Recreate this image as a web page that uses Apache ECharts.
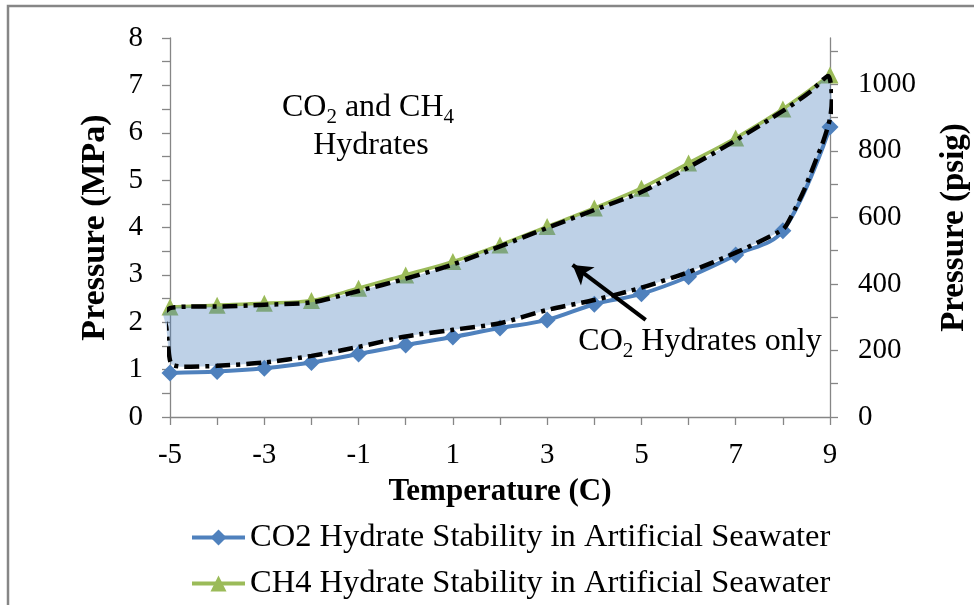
<!DOCTYPE html>
<html>
<head>
<meta charset="utf-8">
<script src="https://cdn.jsdelivr.net/npm/echarts@6/dist/echarts.min.js"></script>
<style>
html,body{margin:0;padding:0;background:#fff;}
#chart{width:974px;height:605px;}
</style>
</head>
<body>
<div id="chart"></div>
<script>
// ---- data ----
const temps = [-5, -4, -3, -2, -1, 0, 1, 2, 3, 4, 5, 6, 7, 8, 9];
const co2Pressure = [0.93, 0.96, 1.03, 1.15, 1.33, 1.52, 1.69, 1.88, 2.05, 2.38, 2.60, 2.96, 3.42, 3.93, 6.12];
const ch4Pressure = [2.32, 2.36, 2.40, 2.46, 2.72, 3.00, 3.28, 3.63, 4.02, 4.41, 4.83, 5.36, 5.89, 6.50, 7.22];
// region "CO2 Hydrates only" outline (temperature, pressure)
const regionT = [-5.15, -5.0, -4.6, -4, -3, -2, -1, 0, 1, 2, 3, 4, 5, 6, 7, 8, 8.6, 8.96, 9.04, 9.0, 8.85, 8.7, 8.45, 8.17, 8.0, 7, 6, 5, 4, 3, 2, 1, 0, -1, -2, -3, -4, -4.7, -4.97, -5.04, -5.08, -5.15];
const regionP = [2.17, 2.30, 2.33, 2.33, 2.37, 2.42, 2.66, 2.92, 3.22, 3.60, 3.99, 4.37, 4.75, 5.27, 5.84, 6.46, 6.88, 7.20, 6.70, 6.30, 5.80, 5.42, 4.79, 4.22, 3.96, 3.47, 3.06, 2.73, 2.47, 2.26, 1.98, 1.84, 1.70, 1.48, 1.29, 1.15, 1.08, 1.06, 1.12, 1.50, 1.90, 2.17];
const mpaTicks = [0, 1, 2, 3, 4, 5, 6, 7, 8];
const psigTicks = [0, 100, 200, 300, 400, 500, 600, 700, 800, 900, 1000, 1100];
const psigLabels = [0, 200, 400, 600, 800, 1000];
const xLabels = [-5, -3, -1, 1, 3, 5, 7, 9];
const arrowFrom = [5.09, 2.05];
const arrowTo = [3.54, 3.21];

const FONT = "'Liberation Serif','Times New Roman',serif";
const AXIS_GRAY = '#868686';

const co2Data = temps.map((t, i) => [t, co2Pressure[i]]);
const ch4Data = temps.map((t, i) => [t, ch4Pressure[i]]);
const regionData = regionT.map((t, i) => [t, regionP[i]]);

const chart = echarts.init(document.getElementById('chart'), null, {renderer: 'canvas'});

const subRich = {sub: {fontFamily: FONT, fontSize: 21, verticalAlign: 'bottom', lineHeight: 21, fill: '#000'}};

const option = {
  animation: false,
  backgroundColor: '#fff',
  grid: {left: 170, right: 144, top: 38, bottom: 188, containLabel: false, outerBoundsMode: 'none'},
  xAxis: {
    type: 'value', min: -5, max: 9, interval: 1,
    axisLine: {show: true, onZero: false, lineStyle: {color: AXIS_GRAY, width: 1.3}},
    axisTick: {show: true, length: 8, lineStyle: {color: AXIS_GRAY, width: 1.3}},
    splitLine: {show: false},
    axisLabel: {
      margin: 24, color: '#000', fontFamily: FONT, fontSize: 29,
      formatter: v => xLabels.indexOf(v) >= 0 ? String(v) : ''
    },
    name: 'Temperature (C)', nameLocation: 'middle', nameGap: 59,
    nameTextStyle: {fontFamily: FONT, fontSize: 31, fontWeight: 'bold', color: '#000'}
  },
  yAxis: [{
    type: 'value', min: 0, max: 8, interval: 0.5, position: 'left',
    axisLine: {show: true, onZero: false, lineStyle: {color: AXIS_GRAY, width: 1.3}},
    axisTick: {show: true, length: 8, lineStyle: {color: AXIS_GRAY, width: 1.3}},
    splitLine: {show: false},
    axisLabel: {
      margin: 27, color: '#000', fontFamily: FONT, fontSize: 29,
      formatter: v => mpaTicks.indexOf(v) >= 0 ? String(v) : ''
    },
    name: 'Pressure (MPa)', nameLocation: 'middle', nameGap: 58,
    nameTextStyle: {fontFamily: FONT, fontSize: 34, fontWeight: 'bold', color: '#000'}
  }, {
    type: 'value', min: 0, max: 1139, interval: 100, position: 'right',
    axisLine: {show: true, onZero: false, lineStyle: {color: AXIS_GRAY, width: 1.3}},
    axisTick: {show: true, length: 8, lineStyle: {color: AXIS_GRAY, width: 1.3}, customValues: psigTicks},
    splitLine: {show: false},
    axisLabel: {
      margin: 28, color: '#000', fontFamily: FONT, fontSize: 29,
      customValues: psigLabels,
      formatter: v => psigLabels.indexOf(v) >= 0 ? String(v) : ''
    },
    name: 'Pressure (psig)', nameLocation: 'middle', nameGap: 108, nameRotate: 90,
    nameTextStyle: {fontFamily: FONT, fontSize: 33, fontWeight: 'bold', color: '#000'}
  }],
  legend: {
    data: ['CO2 Hydrate Stability in Artificial Seawater', 'CH4 Hydrate Stability in Artificial Seawater'],
    orient: 'vertical', left: 185, top: 516, itemGap: 13,
    itemWidth: 53, itemHeight: 20,
    lineStyle: {width: 4},
    textStyle: {fontFamily: FONT, fontSize: 32.5, lineHeight: 32, color: '#000'}
  },
  series: [{
    name: 'CO2 Hydrate Stability in Artificial Seawater',
    type: 'line', data: co2Data, z: 2, smooth: 0.35,
    symbol: 'diamond', symbolSize: 17,
    lineStyle: {color: '#4f81bd', width: 4},
    itemStyle: {color: '#4f81bd'}
  }, {
    name: 'CH4 Hydrate Stability in Artificial Seawater',
    type: 'line', data: ch4Data, z: 2, smooth: 0.35,
    symbol: 'triangle', symbolSize: 17,
    lineStyle: {color: '#9bbb59', width: 3.5},
    itemStyle: {color: '#9bbb59'}
  }, {
    name: 'region',
    type: 'custom', z: 3, silent: true,
    data: regionData,
    encode: {x: 0, y: 1},
    renderItem: function (params, api) {
      if (params.dataIndex !== 0) return null;
      const pts = regionData.map(p => api.coord(p));
      return {
        type: 'polygon',
        shape: {points: pts, smooth: 0.25},
        style: {fill: 'rgba(79,129,189,0.37)', stroke: null}
      };
    }
  }, {
    name: 'outline',
    type: 'line', z: 4, silent: true,
    data: regionData,
    smooth: 0.25, showSymbol: false, symbol: 'none',
    lineStyle: {color: '#000', width: 4.5, type: [15, 6, 4, 6], cap: 'butt'},
    markLine: {
      silent: true, symbol: ['none', 'arrow'], symbolSize: [17, 19],
      label: {show: false},
      lineStyle: {color: '#000', width: 4, type: 'solid'},
      data: [[{coord: arrowFrom}, {coord: arrowTo}]]
    }
  }],
  graphic: [{
    type: 'rect', z: -1, silent: true,
    shape: {x: 8, y: 6, width: 1000, height: 700},
    style: {fill: 'none', stroke: '#868686', lineWidth: 2.5}
  }, {
    type: 'text', z: 10, x: 368, y: 108,
    style: {
      text: 'CO{sub|2} and CH{sub|4}',
      fontFamily: FONT, fontSize: 32, fill: '#000', align: 'center', verticalAlign: 'middle', lineHeight: 40,
      rich: subRich
    }
  }, {
    type: 'text', z: 10, x: 371, y: 146,
    style: {
      text: 'Hydrates',
      fontFamily: FONT, fontSize: 32, fill: '#000', align: 'center', verticalAlign: 'middle'
    }
  }, {
    type: 'text', z: 10, x: 700, y: 342,
    style: {
      text: 'CO{sub|2} Hydrates only',
      fontFamily: FONT, fontSize: 32, fill: '#000', align: 'center', verticalAlign: 'middle', lineHeight: 40,
      rich: subRich
    }
  }]
};
chart.setOption(option);
</script>
</body>
</html>
